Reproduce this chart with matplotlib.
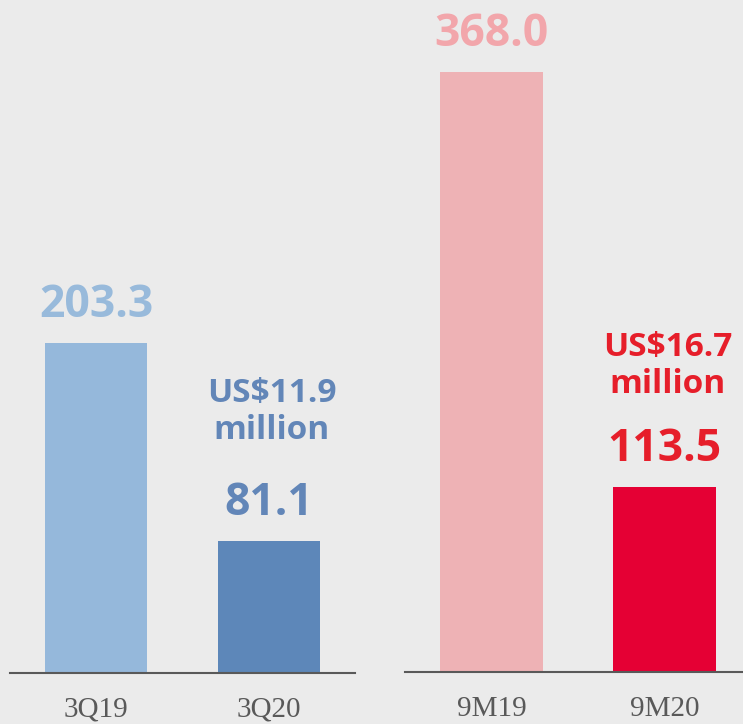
import matplotlib.pyplot as plt

# data
left_cats = ['3Q19', '3Q20']
left_vals = [203.3, 81.1]
right_cats = ['9M19', '9M20']
right_vals = [368.0, 113.5]
left_note = 'US$11.9'
right_note = 'US$16.7'

bg = '#EBEBEB'
left_bar_cols = ['#95B8DB', '#5D87B9']
left_txt_cols = ['#98BADB', '#6286B8']
right_bar_cols = ['#EEB2B5', '#E50034']
right_txt_cols = ['#F2A6AB', '#E61E2A']

fig = plt.figure(figsize=(7.43, 7.24), dpi=100)
fig.patch.set_facecolor(bg)

ax1 = fig.add_axes([10/743, 51/724, 345/743, 673/724])
ax2 = fig.add_axes([405/743, 52/724, 346/743, 672/724])

def panel(ax, cats, vals, bar_cols, txt_cols, note, ymax, note_gap):
    ax.set_facecolor(bg)
    x = range(len(cats))
    ax.bar(x, vals, width=0.59, color=bar_cols)
    ax.set_xlim(-0.5, 1.5)
    ax.set_ylim(0, ymax)
    for s in ['top', 'left', 'right']:
        ax.spines[s].set_visible(False)
    ax.spines['bottom'].set_color('#595959')
    ax.spines['bottom'].set_linewidth(1.5)
    ax.set_yticks([])
    ax.set_xticks(list(x))
    ax.set_xticklabels(cats, family='Liberation Serif', fontsize=21, color='#595959')
    ax.tick_params(axis='x', length=0, pad=17)
    for i, v in enumerate(vals):
        ax.annotate('%.1f' % v, (i, v), xytext=(0, 19), textcoords='offset points',
                    ha='center', va='baseline', fontsize=32, fontweight='bold',
                    family='Open Sans', color=txt_cols[i])
    # note above the second bar
    v = vals[1]
    ax.annotate('million', (1, v), xytext=(2, 19 + note_gap), textcoords='offset points',
                ha='center', va='baseline', fontsize=24, fontweight='bold',
                family='Open Sans', color=txt_cols[1])
    ax.annotate(note, (1, v), xytext=(2, 19 + note_gap + 26), textcoords='offset points',
                ha='center', va='baseline', fontsize=24, fontweight='bold',
                family='Open Sans', color=txt_cols[1])

panel(ax1, left_cats, left_vals, left_bar_cols, left_txt_cols, left_note, 414.6, 55)
panel(ax2, right_cats, right_vals, right_bar_cols, right_txt_cols, right_note, 412.3, 49)

fig.savefig('out.png', dpi=100, facecolor=bg)
